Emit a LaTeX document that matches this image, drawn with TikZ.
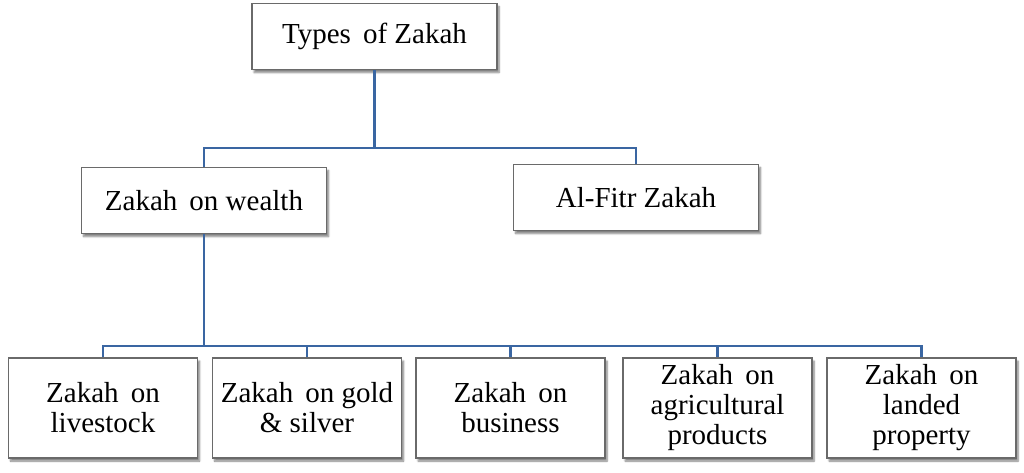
\documentclass[tikz,border=0pt]{standalone}
\usepackage{fontspec}
\setmainfont{Liberation Serif}
\usetikzlibrary{shadows.blur}
\definecolor{linkblue}{HTML}{3A66A2}
\definecolor{boxgray}{HTML}{6A6A6A}
\begin{document}
\begin{tikzpicture}[x=1pt,y=-1pt,
  box/.style={draw=boxgray, line width=1.4pt, fill=white, inner sep=0pt, align=center,
    font=\fontsize{29}{30}\selectfont,
    blur shadow={shadow xshift=2pt, shadow yshift=-3pt, shadow blur steps=6, shadow opacity=50}},
  topbox/.style={box, minimum width=245pt, minimum height=66pt},
  leafbox/.style={box, minimum width=189pt, minimum height=100pt},
  link/.style={draw=linkblue, line width=2.7pt}]
\useasboundingbox (0,0) rectangle (1024,473);
\node[topbox] (top) at (374.5,36.5) {Types\, of Zakah};
\node[topbox] (wealth) at (204,200.5) {Zakah\, on wealth};
\node[topbox] (fitr) at (636,197.5) {Al-Fitr Zakah};
\node[leafbox] (b1) at (103,408) {Zakah\, on\\livestock};
\node[leafbox] (b2) at (307,408) {Zakah\, on gold\\\& silver};
\node[leafbox] (b3) at (510.5,408) {Zakah\, on\\business};
\node[leafbox] (b4) at (717.5,408) {Zakah\, on\\agricultural\\products};
\node[leafbox] (b5) at (921.5,408) {Zakah\, on\\landed\\property};
\coordinate (j1) at (374.5,148);
\coordinate (j2) at (204,346);
\draw[link] (top.south) -- (j1);
\draw[link] (wealth.north) -- (wealth.north |- j1) -- (fitr.north |- j1) -- (fitr.north);
\draw[link] (wealth.south) -- (j2);
\draw[link] (b1.north) -- (b1.north |- j2) -- (b5.north |- j2) -- (b5.north);
\draw[link] (b2.north) -- (b2.north |- j2);
\draw[link] (b3.north) -- (b3.north |- j2);
\draw[link] (b4.north) -- (b4.north |- j2);
\end{tikzpicture}
\end{document}
